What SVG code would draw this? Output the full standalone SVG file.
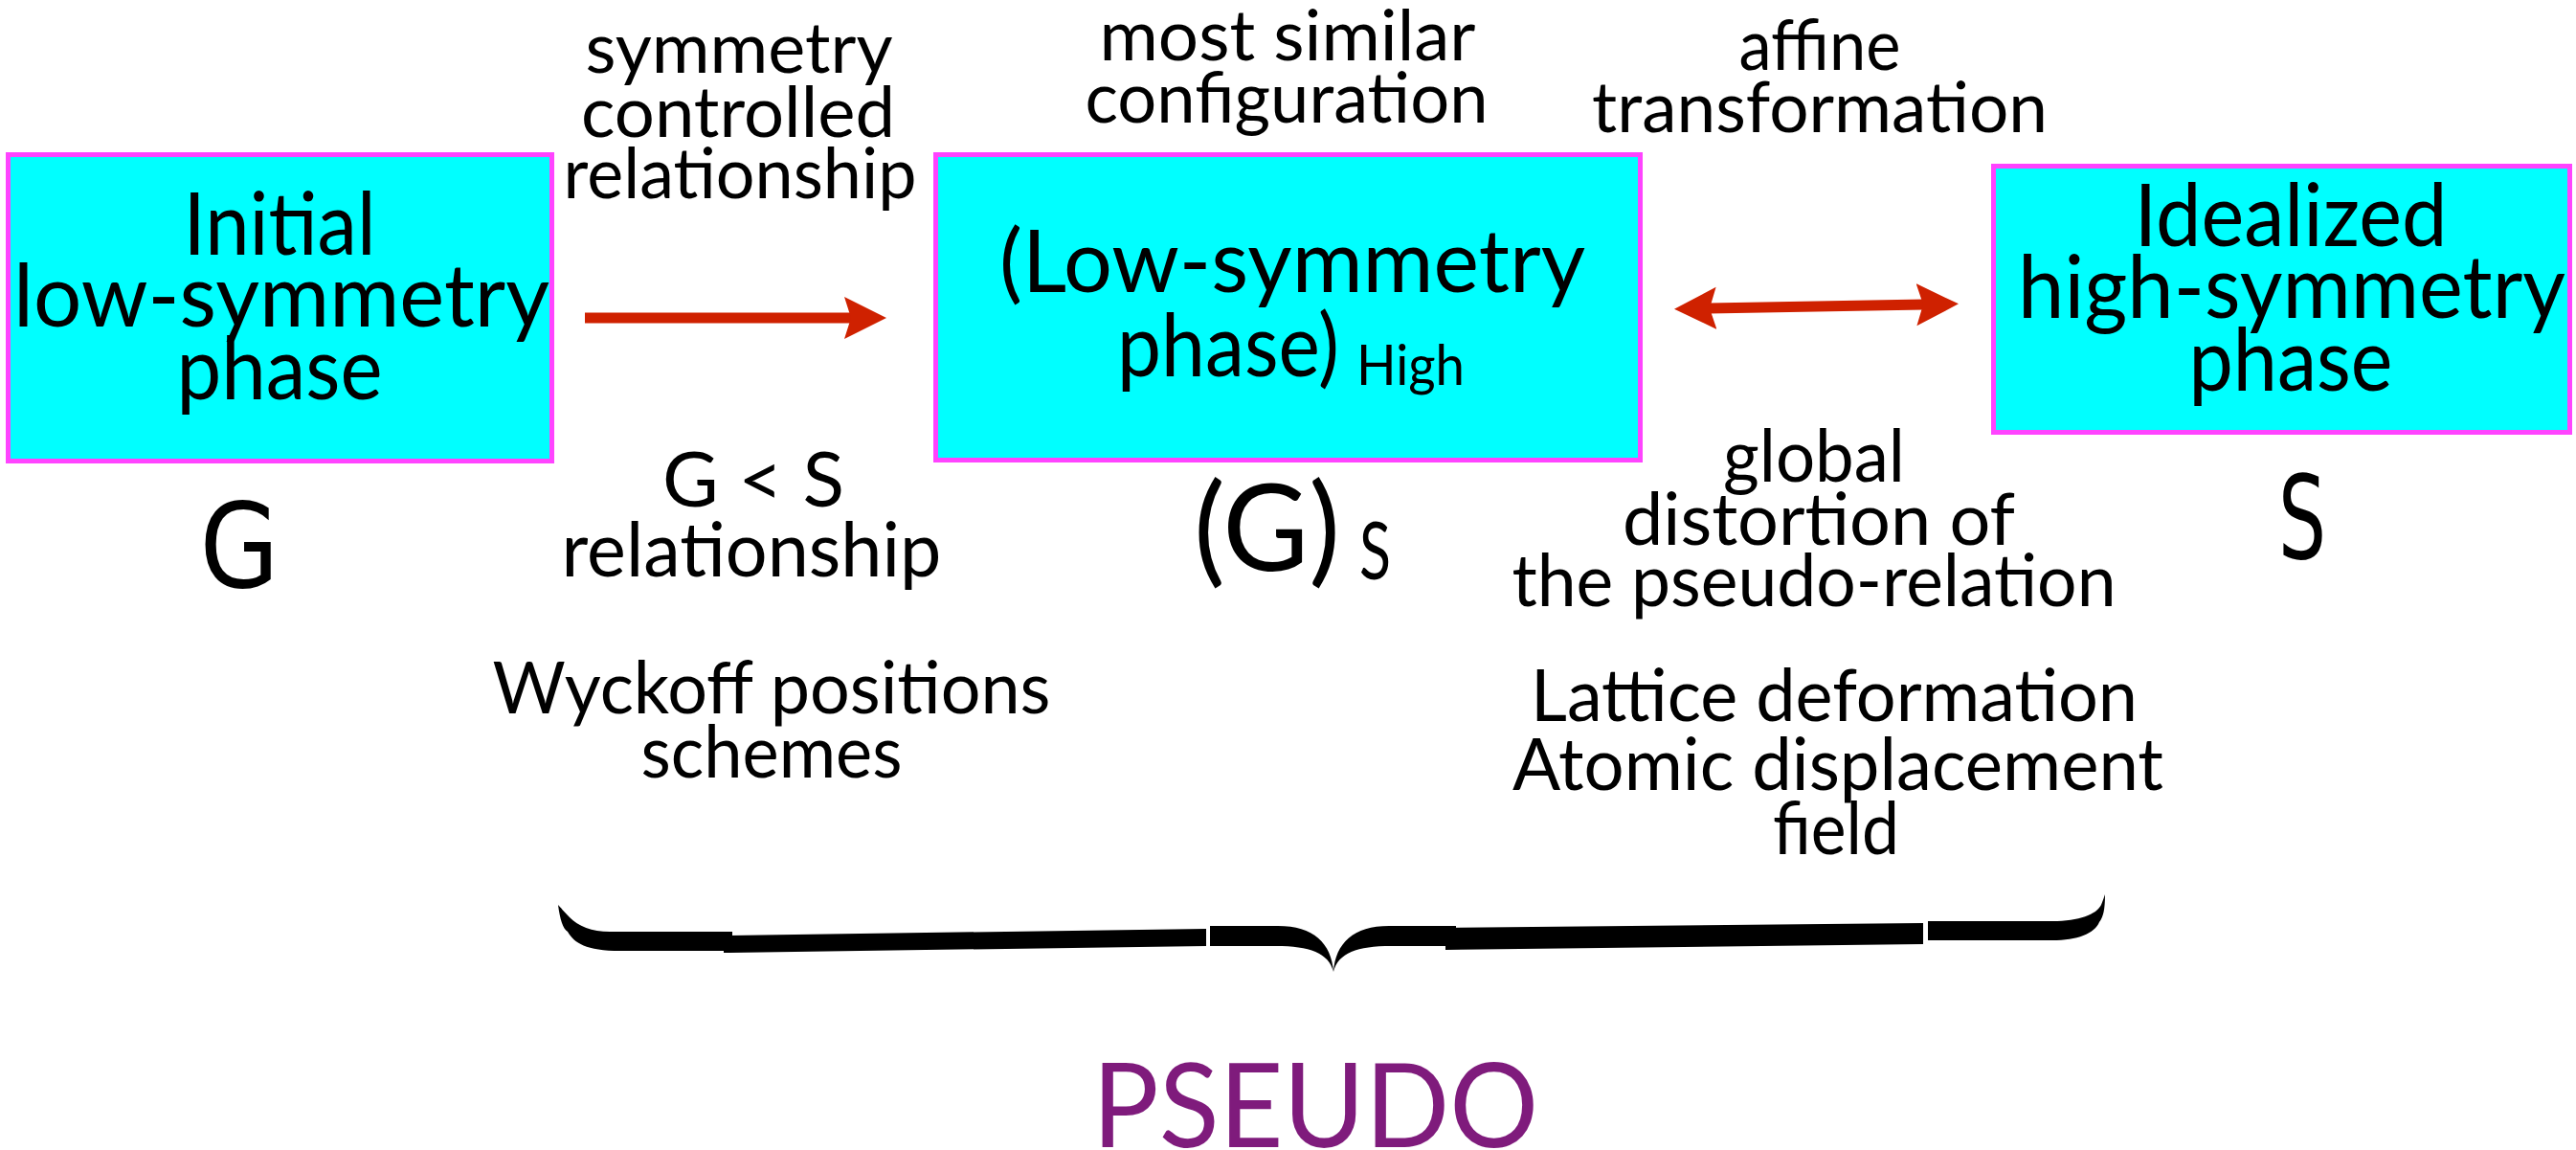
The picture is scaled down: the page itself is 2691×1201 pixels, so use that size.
<svg xmlns="http://www.w3.org/2000/svg" width="2691" height="1201" viewBox="0 0 2691 1201">
<style>
.box{fill:#00ffff;stroke:#ff44ff;stroke-width:5}
.t{font-family:Lato,"Liberation Sans",sans-serif;fill:#000;text-anchor:middle}
.s{text-anchor:start}
.bx{font-size:92px}
.lb{font-size:74px}
.lb2{font-size:76px}
.dj{font-family:"DejaVu Sans",sans-serif;fill:#000;text-anchor:middle}
.arr{stroke:#cf2100;stroke-width:11;fill:none}
.brace{fill:#000}
</style>
<defs>
<marker id="head" markerUnits="userSpaceOnUse" markerWidth="46" markerHeight="46" refX="8" refY="22" orient="auto-start-reverse" viewBox="0 0 46 44">
<path d="M0,0 L44,22 L0,44 L7,22 Z" fill="#cf2100"/>
</marker>
</defs>
<rect width="2691" height="1201" fill="#fff"/>

<g id="connectors">
<line class="arr" x1="611" y1="332" x2="890" y2="332" marker-end="url(#head)"/>
<line class="arr" x1="1785" y1="322" x2="2010" y2="318" marker-start="url(#head)" marker-end="url(#head)"/>
</g>

<g id="node-initial">
<rect class="box" x="8.5" y="161.5" width="568" height="320"/>
<text class="t bx" x="292" y="266" textLength="201" lengthAdjust="spacingAndGlyphs">Initial</text>
<text class="t bx" x="294" y="341" textLength="560" lengthAdjust="spacingAndGlyphs">low-symmetry</text>
<text class="t bx" x="292" y="417" textLength="215" lengthAdjust="spacingAndGlyphs">phase</text>
</g>

<g id="node-lowsym-high">
<rect class="box" x="977.5" y="161.5" width="736" height="319"/>
<text class="t bx" x="1350" y="305" textLength="612" lengthAdjust="spacingAndGlyphs">(Low-symmetry</text>
<text class="t s bx" x="1167" y="393" textLength="232" lengthAdjust="spacingAndGlyphs">phase)</text>
<text class="t s" x="1417" y="402" font-size="59" textLength="113" lengthAdjust="spacingAndGlyphs">High</text>
</g>

<g id="node-idealized">
<rect class="box" x="2082.5" y="173.5" width="602" height="278"/>
<text class="t bx" x="2393" y="257" textLength="327" lengthAdjust="spacingAndGlyphs">Idealized</text>
<text class="t bx" x="2394" y="332" textLength="572" lengthAdjust="spacingAndGlyphs">high-symmetry</text>
<text class="t bx" x="2393" y="408" textLength="213" lengthAdjust="spacingAndGlyphs">phase</text>
</g>

<g id="label-symmetry-controlled">
<text class="t lb" x="772" y="76" textLength="321" lengthAdjust="spacingAndGlyphs">symmetry</text>
<text class="t lb" x="771" y="143" textLength="328" lengthAdjust="spacingAndGlyphs">controlled</text>
<text class="t lb" x="773" y="207" textLength="369" lengthAdjust="spacingAndGlyphs">relationship</text>
</g>

<g id="label-most-similar">
<text class="t lb" x="1345" y="63" textLength="393" lengthAdjust="spacingAndGlyphs">most similar</text>
<text class="t lb" x="1344" y="128" textLength="421" lengthAdjust="spacingAndGlyphs">configuration</text>
</g>

<g id="label-affine">
<text class="t lb" x="1901" y="73" textLength="169" lengthAdjust="spacingAndGlyphs">affine</text>
<text class="t lb" x="1901" y="138" textLength="476" lengthAdjust="spacingAndGlyphs">transformation</text>
</g>

<g id="label-G">
<text class="dj" x="250" y="613" font-size="123" textLength="83" lengthAdjust="spacingAndGlyphs">G</text>
</g>

<g id="label-GS">
<text class="t s" x="1247" y="596" font-size="127" textLength="153" lengthAdjust="spacingAndGlyphs">(G)</text>
<text class="t s" x="1420" y="605" font-size="84" textLength="33" lengthAdjust="spacingAndGlyphs">S</text>
</g>

<g id="label-S">
<text class="dj" x="2405" y="583" font-size="121" textLength="50" lengthAdjust="spacingAndGlyphs">S</text>
</g>

<g id="label-G-less-S">
<text class="t" x="787" y="529" font-size="80" textLength="190" lengthAdjust="spacingAndGlyphs">G &lt; S</text>
<text class="t" x="785" y="602" font-size="80" textLength="397" lengthAdjust="spacingAndGlyphs">relationship</text>
</g>

<g id="label-wyckoff">
<text class="t lb2" x="806" y="745" textLength="583" lengthAdjust="spacingAndGlyphs">Wyckoff positions</text>
<text class="t lb2" x="806" y="812" textLength="273" lengthAdjust="spacingAndGlyphs">schemes</text>
</g>

<g id="label-global">
<text class="t lb2" x="1895" y="503" textLength="190" lengthAdjust="spacingAndGlyphs">global</text>
<text class="t lb2" x="1900" y="569" textLength="410" lengthAdjust="spacingAndGlyphs">distortion of</text>
<text class="t lb2" x="1895" y="633" textLength="631" lengthAdjust="spacingAndGlyphs">the pseudo-relation</text>
</g>

<g id="label-lattice">
<text class="t lb2" x="1916" y="753" textLength="634" lengthAdjust="spacingAndGlyphs">Lattice deformation</text>
<text class="t lb2" x="1920" y="825" textLength="680" lengthAdjust="spacingAndGlyphs">Atomic displacement</text>
<text class="t lb2" x="1918" y="892" textLength="132" lengthAdjust="spacingAndGlyphs">field</text>
</g>

<g id="brace">
<path class="brace" d="M583,945 C585,960 588,970 593,973 C600,985 612,993 648,993 L765,993 L765,973 L637,973 C618,973 604,967 595,958 C589,952 586,948 583,945 Z"/>
<path class="brace" d="M756,977 L1260,970 L1260,988 L756,995 Z"/>
<path class="brace" d="M1264,967 L1335,967 C1372,967 1391,985 1393,1015 C1395,985 1414,967 1451,967 L1521,967 L1521,988 L1453,988 C1418,988 1398,995 1393,1015 C1388,995 1368,988 1333,988 L1264,988 Z"/>
<path class="brace" d="M1510,969 L2009,964 L2009,986 L1510,992 Z"/>
<path class="brace" d="M2014,962 L2144,962 C2172,962 2190,955 2195,945 C2197,940 2198,937 2199,934 C2199,950 2197,958 2193,963 C2188,975 2170,982 2144,982 L2014,982 Z"/>
</g>

<g id="label-pseudo">
<text class="t" x="1374" y="1198" font-size="123" fill="#7f1b7c" style="fill:#7f1b7c" textLength="466" lengthAdjust="spacingAndGlyphs">PSEUDO</text>
</g>
</svg>
